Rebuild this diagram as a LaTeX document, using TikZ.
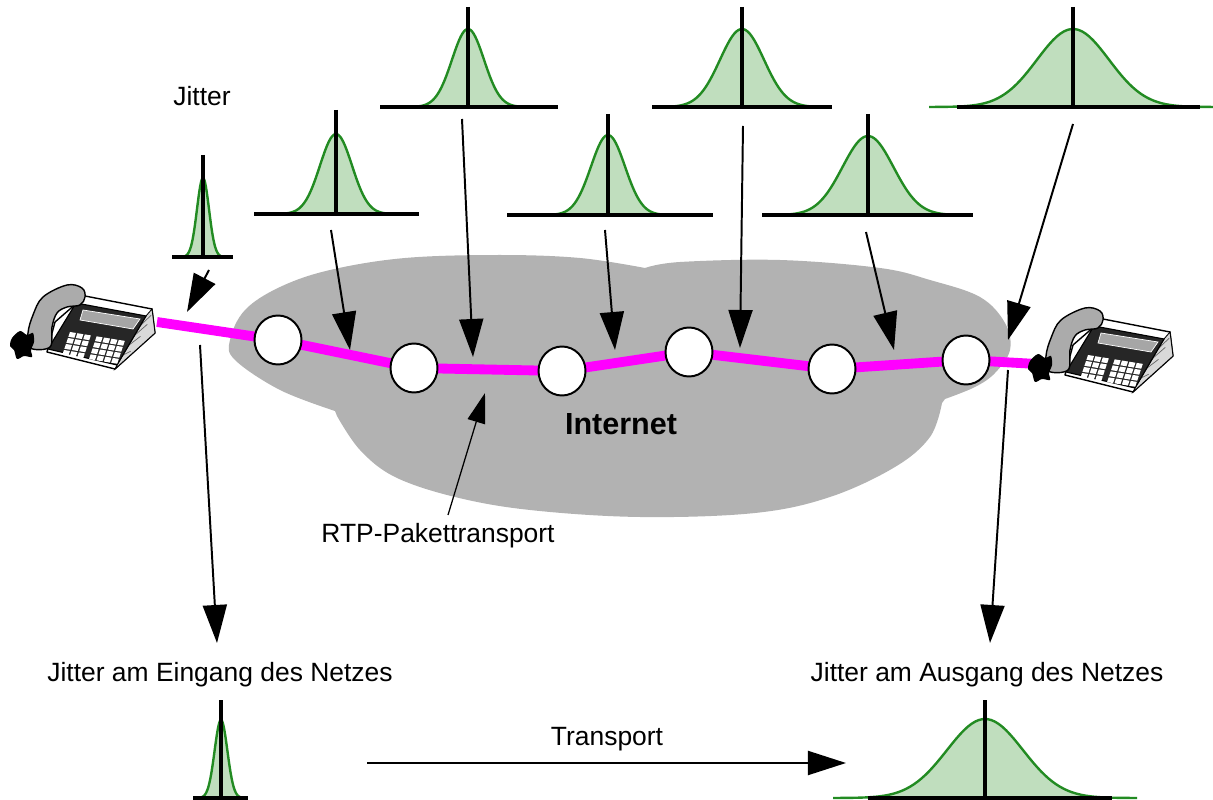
\documentclass[tikz,border=0pt]{standalone}
\usepackage{fontspec}
\setmainfont{Liberation Sans}
\usetikzlibrary{arrows.meta,shapes.geometric,backgrounds}
\definecolor{gruen}{RGB}{34,139,34}
\definecolor{hellgruen}{RGB}{192,222,190}
\definecolor{wolke}{RGB}{178,178,178}
\definecolor{pinkrot}{RGB}{255,0,255}

% Glockenkurve: Mitte, Grundlinie, sigma, Hoehe, Grundlinie von, bis, Oberkante Strich
\newcommand{\glocke}[7]{%
  \fill[hellgruen,domain=#1-4*#3:#1+4*#3,samples=80] plot (\x,{#2-#4*exp(-((\x-#1)/#3)*((\x-#1)/#3)/2)});
  \draw[gruen,line width=1.7pt,domain=#1-4*#3:#1+4*#3,samples=80] plot (\x,{#2-#4*exp(-((\x-#1)/#3)*((\x-#1)/#3)/2)});
  \draw[line width=2.4pt] (#5,#2) -- (#6,#2);
  \draw[line width=2.4pt] (#1,#7) -- (#1,#2);
}

\tikzset{
  txt/.style={font=\fontsize{18.8}{22}\selectfont,inner sep=0pt,anchor=base},
  router/.style={ellipse,draw,line width=1.4pt,fill=white,inner sep=0pt,minimum width=1.175cm,minimum height=1.225cm},
  pfeil/.style={line width=1.4pt,-{Triangle[length=0.95cm,width=0.6cm]}},
  rtp/.style={pinkrot,line width=7pt},
  telefon/.pic={
    % Gehaeuse
    \filldraw[fill=white,line width=1pt,line join=round] (85,296) -- (152,309) -- (155,333) -- (115,369) -- (47,352) -- (55,322) -- cycle;
    \filldraw[fill=black!15,line width=0.6pt] (146,316) -- (152,309) -- (155,333) -- (115,369) -- (117,365) -- cycle;
    \foreach \t in {0.2,0.4,0.6,0.8}
      \draw[black!60,line width=0.5pt] ({146-29*\t},{316+49*\t}) -- ({152+3*\t-37*\t*\t},{309+24*\t+36*\t*\t});
    % Tastenfeld und Anzeige
    \filldraw[fill=black!85,line width=0.8pt] (76,303) -- (146,316) -- (117,365) -- (48,349) -- cycle;
    \filldraw[fill=black!35,draw=white,line width=0.5pt] (83,310) -- (140,319) -- (133,329) -- (80,320) -- cycle;
    \foreach \s in {0,1,2,3.6,4.6,5.6,6.6}
      \foreach \z in {0,...,3}
        \fill[white] ({70+7.4*\s-2*\z},{332+1.2*\s+6*\z}) -- ++(6,1) -- ++(-1.6,4.8) -- ++(-6,-1) -- cycle;
    % Hoerer
    \filldraw[fill=black!33,line width=1pt] plot[smooth cycle,tension=0.6] coordinates {(33,315) (43,297) (67,285) (82,288) (85,297) (80,305) (67,307) (57,313) (52,327) (50,347) (30,348) (28,333)};
    % Kabel
    \fill[black] plot[smooth cycle] coordinates {(12,338) (20,331) (27,335) (33,333) (34,342) (31,350) (32,357) (24,356) (17,359) (14,350) (10,346)};
  }
}

\begin{document}
\begin{tikzpicture}[x=0.025cm,y=-0.025cm]
\useasboundingbox (0,0) rectangle (1213,800);

% Telefone
\pic at (0,0) {telefon};
\pic at (1018,23) {telefon};
\coordinate (telL) at (157,322);
\coordinate (telR) at (1037,364);

% Router im Netz
\node[router] (r1) at (278,340) {};
\node[router] (r2) at (414,368) {};
\node[router] (r3) at (562,371) {};
\node[router] (r4) at (689,352) {};
\node[router] (r5) at (832,369) {};
\node[router] (r6) at (966,360) {};

\begin{scope}[on background layer]
\fill[wolke] plot[smooth,tension=0.6] coordinates {(645,268) (580,258) (500,255) (405,258) (330,270) (280,287) (245,310) (230,340) (235,360) (280,390) (335,411)}
  -- plot[smooth,tension=0.6] coordinates {(337,416) (360,450) (395,477) (455,497) (530,510) (640,517) (755,513) (830,497) (895,467) (930,437) (942,403)}
  -- plot[smooth,tension=0.6] coordinates {(945,399) (975,387) (995,373) (1010,350) (1005,323) (980,297) (930,280) (880,268) (780,260) (680,262) (645,268)} -- cycle;
\draw[rtp] (telL) -- (r1.center) -- (r2.center) -- (r3.center) -- (r4.center) -- (r5.center) -- (r6.center) -- (telR);
\end{scope}

\node[font=\fontsize{21.7}{26}\selectfont\bfseries,inner sep=0pt,anchor=base] (internet) at (621,435) {Internet};

% Verteilungen
\glocke{203}{257}{6}{79}{172}{233}{155}
\glocke{336}{214}{16}{80}{254}{419}{110}
\glocke{468}{107}{16}{78}{380}{558}{7}
\glocke{608}{215}{17}{80}{507}{713}{114}
\glocke{742}{107}{22}{78}{652}{832}{7}
\glocke{868}{215}{25.5}{79}{762}{973}{114}
\glocke{1073}{107}{36}{78}{957}{1200}{7}
\glocke{221}{798}{6.4}{78}{193}{248}{700}
\glocke{985}{798}{38}{79}{868}{1112}{700}

% Texte
\node[txt] (jitter) at (202,106) {Jitter};
\node[txt] (eingang) at (220,681) {Jitter am Eingang des Netzes};
\node[txt] (ausgang) at (987,681) {Jitter am Ausgang des Netzes};
\node[txt] (rtptext) at (438,542) {RTP-Pakettransport};
\node[txt] (transport) at (607,745) {Transport};

% Pfeile
\coordinate (a1) at (209,270);  \coordinate (b1) at (187,312);
\coordinate (a2) at (331,230);  \coordinate (b2) at (350,350);
\coordinate (a3) at (462,119);  \coordinate (b3) at (473,357);
\coordinate (a4) at (605,230);  \coordinate (b4) at (615,350);
\coordinate (a5) at (743,126);  \coordinate (b5) at (740,348);
\coordinate (a6) at (866,232);  \coordinate (b6) at (894,350);
\coordinate (a7) at (1073,124); \coordinate (b7) at (1008,340);
\coordinate (a8) at (200,345);  \coordinate (b8) at (217,643);
\coordinate (a9) at (1008,370); \coordinate (b9) at (990,643);
\foreach \i in {1,...,9}
  \draw[pfeil] (a\i) -- (b\i);
\coordinate (rtpziel) at (485,393);
\draw[line width=0.9pt,-{Triangle[length=0.75cm,width=0.45cm]}] (448,515) -- (rtpziel);
\coordinate (tstart) at (367,763);
\coordinate (tziel) at (846,763);
\draw[pfeil] (tstart) -- (tziel);
\end{tikzpicture}
\end{document}
